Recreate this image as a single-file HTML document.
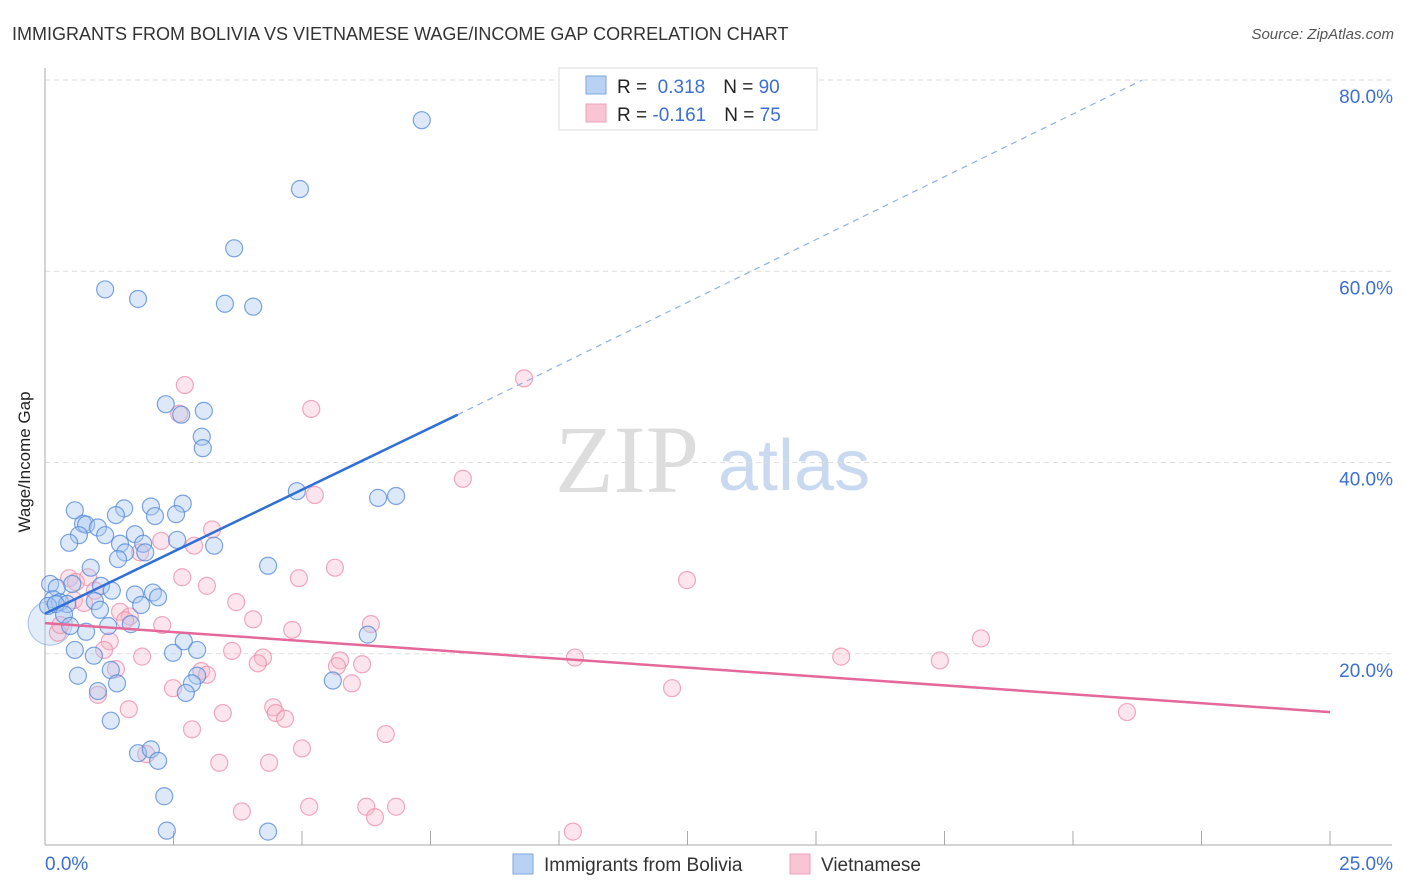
<!DOCTYPE html>
<html><head><meta charset="utf-8"><style>
body{margin:0;background:#fff;font-family:"Liberation Sans",sans-serif}
svg{display:block}
</style></head><body>
<svg id="chart" width="1406" height="892" xmlns="http://www.w3.org/2000/svg">
<text x="12" y="40" font-size="18" fill="#333">IMMIGRANTS FROM BOLIVIA VS VIETNAMESE WAGE/INCOME GAP CORRELATION CHART</text>
<text x="1394" y="39" font-size="15" fill="#555" text-anchor="end" font-style="italic">Source: ZipAtlas.com</text>
<text x="555" y="492" font-size="96" fill="#ddd" font-family="Liberation Serif,serif">ZIP</text>
<text x="718" y="490" font-size="72" fill="#c9daf0">atlas</text>
<g id="grid"></g>
<g id="pts"></g>
<g id="lines"></g>
<text x="24" y="456" font-size="17" fill="#222" transform="rotate(-90 30 456)" text-anchor="middle">Wage/Income Gap</text>
<g>
<rect x="559" y="68" width="258" height="62" fill="#fff" stroke="#ddd"/>
<rect x="586" y="76" width="20" height="18" fill="#b9d2f3" stroke="#7ea6e0"/>
<rect x="586" y="104" width="20" height="18" fill="#f9c5d5" stroke="#eea2bb"/>
<text x="617" y="93" font-size="19" fill="#222">R = <tspan fill="#3b6fd4">&#160;0.318</tspan><tspan dx="18" fill="#222">N = </tspan><tspan fill="#3b6fd4">90</tspan></text>
<text x="617" y="121" font-size="19" fill="#222">R = <tspan fill="#3b6fd4">-0.161</tspan><tspan dx="18" fill="#222">N = </tspan><tspan fill="#3b6fd4">75</tspan></text>
</g>
<g>
<rect x="513" y="854" width="20" height="20" fill="#b9d2f3" stroke="#7ea6e0"/>
<text x="544" y="871" font-size="19" fill="#333">Immigrants from Bolivia</text>
<rect x="790" y="854" width="20" height="20" fill="#f9c5d5" stroke="#eea2bb"/>
<text x="821" y="871" font-size="19" fill="#333">Vietnamese</text>
</g>
</svg>
<script>
const yTicks=[20,40,60,80];
const xTickCount=10;
const blueX=[7.33,4.96,3.68,1.17,1.81,3.5,4.05,2.35,3.09,2.65,3.05,3.07,4.9,6.48,6.83,0.58,1.54,2.06,2.68,2.14,2.55,1.38,0.74,0.8,1.03,0.66,1.17,0.47,1.75,1.46,1.91,3.29,2.57,1.56,1.95,1.42,4.34,0.89,0.1,0.23,0.53,1.09,1.3,2.1,2.2,1.75,0.16,0.29,0.43,0.06,0.21,1.87,0.97,0.37,1.07,1.23,1.67,0.49,0.8,6.28,2.7,0.58,2.96,2.49,0.95,1.28,0.64,2.96,2.86,1.4,1.03,2.74,5.6,1.28,1.81,2.06,2.2,2.32,2.37,4.34];
const blueY=[75.8,68.6,62.4,58.1,57.1,56.6,56.3,46.1,45.4,45.0,42.7,41.5,37.0,36.3,36.5,35.0,35.2,35.4,35.7,34.4,34.6,34.5,33.6,33.5,33.2,32.4,32.4,31.6,32.5,31.5,31.5,31.3,31.9,30.6,30.6,29.9,29.2,29.0,27.3,26.9,27.3,27.1,26.6,26.4,25.9,26.2,25.7,25.4,25.2,25.0,25.2,25.1,25.5,24.1,24.6,22.9,23.1,22.9,22.3,22.0,21.3,20.4,20.4,20.1,19.8,18.3,17.7,17.7,16.9,16.9,16.1,15.9,17.2,13.0,9.6,10.0,8.8,5.1,1.5,1.4];
const pinkX=[9.32,2.72,2.61,5.18,8.13,5.25,3.25,2.26,2.9,1.85,5.64,2.67,4.94,12.49,0.47,0.6,0.84,3.15,0.97,3.72,0.56,0.76,1.46,1.65,1.56,4.05,6.34,2.28,4.81,0.25,18.21,1.26,1.15,4.24,5.74,1.89,3.64,10.31,15.49,17.41,6.17,4.14,5.68,1.38,3.04,3.15,2.49,5.97,12.2,1.03,1.63,3.46,4.44,4.49,4.67,2.86,6.63,5.0,1.97,3.39,4.36,21.05,3.83,5.14,6.25,6.83,6.42,10.27,0.3];
const pinkY=[48.8,48.1,45.1,45.6,38.3,36.6,33.0,31.8,31.3,30.6,29.0,28.0,27.9,27.7,27.9,27.5,28.0,27.1,26.6,25.4,25.6,25.3,24.4,23.9,23.5,23.6,23.1,23.0,22.5,22.2,21.6,21.3,20.4,19.6,19.3,19.7,20.3,19.6,19.7,19.3,18.9,19.0,18.7,18.4,18.2,17.8,16.4,16.9,16.4,15.7,14.2,13.8,14.4,13.8,13.2,12.1,11.6,10.1,9.5,8.6,8.6,13.9,3.5,4.0,4.0,4.0,2.9,1.4,23.0];
const blueFit=[[0,24.2],[8.03,45.0]];
const blueDash=[[8.03,45.0],[21.35,80.0]];
const pinkFit=[[0,23.2],[25,13.9]];
const X0=45,X1=1330,Y0=845,PX=(X1-X0)/25,PY=(845-80)/80;
const sx=v=>X0+v*PX, sy=v=>Y0-v*PY;
const NS='http://www.w3.org/2000/svg';
function mk(t,a,p){const e=document.createElementNS(NS,t);for(const k in a)e.setAttribute(k,a[k]);p.appendChild(e);return e;}
const g=document.getElementById('grid');
yTicks.forEach(v=>{
 const l=mk('line',{x1:X0,x2:1392,y1:sy(v),y2:sy(v),stroke:'#ddd','stroke-dasharray':'5,4'},g);
 
 
 const t=mk('text',{x:1393,y:sy(v)+23,'font-size':19,fill:'#3b6fd4','text-anchor':'end'},g);
 t.textContent=v.toFixed(1)+'%';
 
 
});
const ax=mk('line',{x1:X0,x2:X0,y1:68,y2:Y0,stroke:'#aaa'},g);


const bx=mk('line',{x1:X0,x2:1392,y1:Y0,y2:Y0,stroke:'#aaa'},g);


for(let i=0;i<=xTickCount;i++){const t=mk('line',{x1:sx(i*2.5),x2:sx(i*2.5),y1:Y0,y2:Y0-14,stroke:'#aaa'},g);
 
 }
[['0.0%',45,'start'],['25.0%',1393,'end']].forEach(a=>{const t=mk('text',{x:a[1],y:870,'font-size':19,fill:'#3b6fd4','text-anchor':a[2]},g);t.textContent=a[0];
 
 });
const P=document.getElementById('pts');
mk('circle',{cx:sx(0.1),cy:sy(23.2),r:22,fill:'rgba(185,210,243,0.4)',stroke:'rgba(90,140,220,0.5)'},P);
pinkX.forEach((x,i)=>{const c=mk('circle',{cx:sx(x),cy:sy(pinkY[i]),r:8.5,fill:'rgba(246,180,200,0.35)',stroke:'rgba(236,140,170,0.75)','stroke-width':1.2},P);
 
 });
blueX.forEach((x,i)=>{const c=mk('circle',{cx:sx(x),cy:sy(blueY[i]),r:8.5,fill:'rgba(170,200,240,0.4)',stroke:'rgba(80,135,215,0.75)','stroke-width':1.2},P);
 
 });
const L=document.getElementById('lines');
function ln(p,st,w,d,n){const e=mk('line',{x1:sx(p[0][0]),y1:sy(p[0][1]),x2:sx(p[1][0]),y2:sy(p[1][1]),stroke:st,'stroke-width':w},L);if(d)e.setAttribute('stroke-dasharray',d);
 
 }
ln(blueFit,'#2f6fd6',2.5,null,'bolivia-trend-line');
ln(blueDash,'#8fb0e6',1.2,'6,5','bolivia-trend-extension');
ln(pinkFit,'#e4689a',2.5,null,'vietnamese-trend-line');
</script>
</body></html>
